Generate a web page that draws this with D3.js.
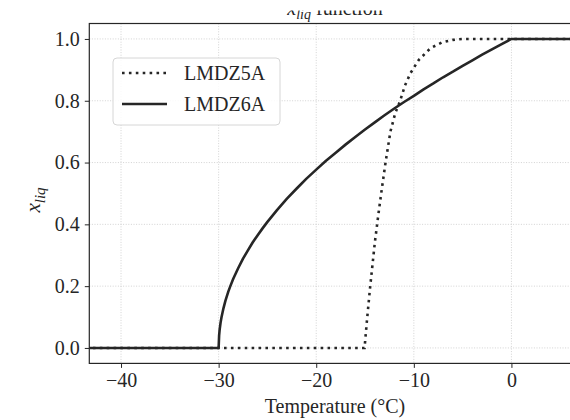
<!DOCTYPE html>
<html>
<head>
<meta charset="utf-8">
<script src="https://cdn.jsdelivr.net/npm/d3@7"></script>
<style>
 body { margin: 0; background: #fff; }
 svg { display: block; }
 text { font-family: "Liberation Serif", "DejaVu Serif", serif; fill: #262626; }
</style>
</head>
<body>
<div id="chart"></div>
<script>

// temperatures (degC) and liquid fraction
var tempLmdz5a = [-45, -15.05, -14.8, -14.5, -14.0, -13.6, -13.3, -12.9, -12.4, -11.9, -11.4, -10.9, -10.35, -9.5, -8.3, -7.1, -6.0, -5.0, 0, 8];
var xliqLmdz5a = [0, 0, 0.09, 0.19, 0.34, 0.44, 0.51, 0.60, 0.70, 0.76, 0.80, 0.85, 0.889, 0.932, 0.97, 0.989, 0.997, 1.0, 1.0, 1.0];

var tempLmdz6a = [-45, -30, -29.95, -29.9, -29.8, -29.7, -29.5, -29.3, -29, -28.8, -28.5, -28, -27.5, -27, -26.5, -26, -25.5, -25, -24, -23, -22, -21, -20, -19, -18, -17, -16, -15, -14, -13, -12, -11, -10, -9, -8, -7, -6, -5, -4, -3, -2, -1, 0, 8];
var xliqLmdz6a = [0, 0, 0.04, 0.058, 0.082, 0.10, 0.129, 0.153, 0.183, 0.20, 0.224, 0.258, 0.289, 0.316, 0.342, 0.365, 0.387, 0.408, 0.447, 0.483, 0.516, 0.548, 0.577, 0.606, 0.632, 0.658, 0.683, 0.707, 0.730, 0.753, 0.775, 0.796, 0.816, 0.837, 0.856, 0.876, 0.894, 0.913, 0.931, 0.949, 0.966, 0.983, 1.0, 1.0];

var seriesNames = ["LMDZ5A", "LMDZ6A"];
var xTicks = [-40, -30, -20, -10, 0];
var yTicks = [0.0, 0.2, 0.4, 0.6, 0.8, 1.0];

var W = 570, H = 420;
var pLeft = 89.3, pTop = 23.5, pBottom = 363.4, pRight = 582.2;
var ink = "#262626";

var x = d3.scaleLinear().domain([-43.25, 7.25]).range([pLeft, pRight]);
var y = d3.scaleLinear().domain([-0.05, 1.05]).range([pBottom, pTop]);

var svg = d3.select("#chart").append("svg")
  .attr("width", W).attr("height", H);

svg.append("clipPath").attr("id", "plotclip")
  .append("rect").attr("x", pLeft).attr("y", pTop)
  .attr("width", pRight - pLeft).attr("height", pBottom - pTop);
svg.append("clipPath").attr("id", "titleclip")
  .append("rect").attr("x", 0).attr("y", 10.5).attr("width", W).attr("height", 20);

// grid
svg.append("g").selectAll("line").data(xTicks).enter().append("line")
  .attr("x1", function(d) { return x(d); }).attr("x2", function(d) { return x(d); })
  .attr("y1", pTop).attr("y2", pBottom)
  .attr("stroke", "#c8c8c8").attr("stroke-width", 0.8).attr("stroke-dasharray", "1,1.6");
svg.append("g").selectAll("line").data(yTicks).enter().append("line")
  .attr("y1", function(d) { return y(d); }).attr("y2", function(d) { return y(d); })
  .attr("x1", pLeft).attr("x2", pRight)
  .attr("stroke", "#c8c8c8").attr("stroke-width", 0.8).attr("stroke-dasharray", "1,1.6");

// curves
var line = d3.line()
  .x(function(d) { return x(d[0]); })
  .y(function(d) { return y(d[1]); });

var plot = svg.append("g").attr("clip-path", "url(#plotclip)");
plot.append("path")
  .datum(d3.zip(tempLmdz6a, xliqLmdz6a))
  .attr("d", line).attr("fill", "none")
  .attr("stroke", ink).attr("stroke-width", 2.6).attr("stroke-linejoin", "round");
plot.append("path")
  .datum(d3.zip(tempLmdz5a, xliqLmdz5a))
  .attr("d", line).attr("fill", "none")
  .attr("stroke", ink).attr("stroke-width", 2.6)
  .attr("stroke-dasharray", "2.6,4.3");

// axes
var xAxis = d3.axisBottom(x).tickValues(xTicks).tickSize(4.5).tickPadding(5)
  .tickFormat(d3.format("d"));
var yAxis = d3.axisLeft(y).tickValues(yTicks).tickSize(4.5).tickPadding(5)
  .tickFormat(d3.format(".1f"));

var gx = svg.append("g").attr("transform", "translate(0," + pBottom + ")").call(xAxis);
var gy = svg.append("g").attr("transform", "translate(" + pLeft + ",0)").call(yAxis);
[gx, gy].forEach(function(g) {
  g.select(".domain").remove();
  g.selectAll(".tick line").attr("stroke", ink).attr("stroke-width", 1);
  g.selectAll(".tick text").attr("fill", ink).style("font-size", "20px");
});

svg.append("rect")
  .attr("x", pLeft).attr("y", pTop)
  .attr("width", pRight - pLeft).attr("height", pBottom - pTop)
  .attr("fill", "none").attr("stroke", ink).attr("stroke-width", 1.2);

// labels
svg.append("text")
  .attr("x", 335).attr("y", 413)
  .attr("text-anchor", "middle").style("font-size", "20px")
  .text("Temperature (°C)");

var yl = svg.append("text")
  .attr("transform", "translate(40,200) rotate(-90)")
  .attr("text-anchor", "middle").style("font-size", "21px");
yl.append("tspan").style("font-style", "italic").text("x");
yl.append("tspan").style("font-style", "italic").style("font-size", "15px")
  .attr("dy", 5).text("liq");

var title = svg.append("text")
  .attr("clip-path", "url(#titleclip)")
  .attr("x", 335).attr("y", 14.5)
  .attr("text-anchor", "middle").style("font-size", "20px");
title.append("tspan").style("font-style", "italic").text("x");
title.append("tspan").style("font-style", "italic").style("font-size", "14px")
  .attr("dy", 4).text("liq");
title.append("tspan").attr("dy", -4).text(" function");

// legend
var leg = svg.append("g");
leg.append("rect")
  .attr("x", 113).attr("y", 58).attr("width", 167).attr("height", 67).attr("rx", 4)
  .attr("fill", "#fff").attr("fill-opacity", 0.85)
  .attr("stroke", "#d6d6d6").attr("stroke-width", 1);
seriesNames.forEach(function(name, i) {
  var ly = 73 + i * 31;
  leg.append("line")
    .attr("x1", 122).attr("x2", 167).attr("y1", ly).attr("y2", ly)
    .attr("stroke", ink).attr("stroke-width", 2.6)
    .attr("stroke-dasharray", i == 0 ? "2.6,4.3" : null);
  leg.append("text")
    .attr("x", 184).attr("y", ly + 7)
    .style("font-size", "20px").text(name);
});

</script>
</body>
</html>
